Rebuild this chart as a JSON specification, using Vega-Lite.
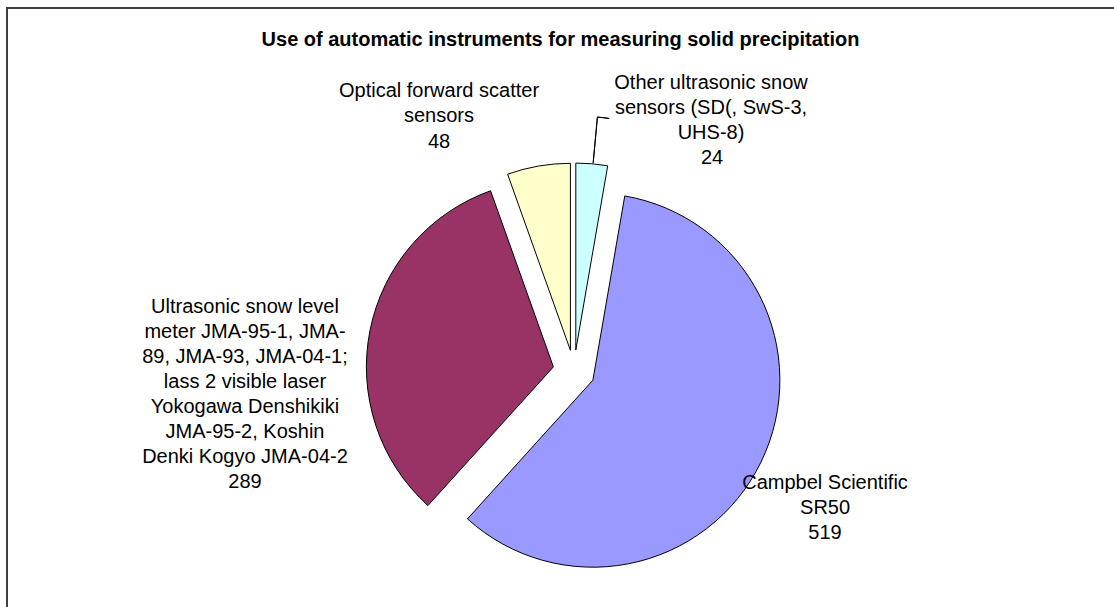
{
  "$schema": "https://vega.github.io/schema/vega-lite/v6.json",
  "width": 1107,
  "height": 599,
  "autosize": {"type": "none"},
  "padding": {"left": 7, "top": 8, "right": 0, "bottom": 0},
  "background": "#ffffff",
  "title": {
    "text": "Use of automatic instruments for measuring solid precipitation",
    "font": "Liberation Sans",
    "fontSize": 20,
    "fontWeight": "bold",
    "color": "#000000",
    "anchor": "middle",
    "frame": "group",
    "baseline": "alphabetic",
    "offset": -40,
    "dy": 28
  },
  "config": {
    "view": {"stroke": null},
    "text": {"font": "Liberation Sans", "fontSize": 20, "fill": "#000000"}
  },
  "data": {
    "values": [
      {"name": "Other ultrasonic snow sensors (SD(, SwS-3, UHS-8)", "lines": ["Other ultrasonic snow", "sensors (SD(, SwS-3,", "UHS-8)"], "value": 24},
      {"name": "Campbel Scientific SR50", "lines": ["Campbel Scientific", "SR50"], "value": 519},
      {"name": "Ultrasonic snow level meter", "lines": ["Ultrasonic snow level", "meter JMA-95-1, JMA-", "89, JMA-93, JMA-04-1;", "lass 2 visible laser", "Yokogawa Denshikiki", "JMA-95-2, Koshin", "Denki Kogyo JMA-04-2"], "value": 289},
      {"name": "Optical forward scatter sensors", "lines": ["Optical forward scatter", "sensors"], "value": 48}
    ]
  },
  "transform": [{"window": [{"op": "row_number", "as": "idx"}]}],
  "layer": [
    {
      "transform": [{"filter": "datum.idx === 1"}],
      "mark": {"type": "rect", "filled": false, "stroke": "#404040", "strokeWidth": 2, "strokeDash": [1107, 1706, 599]},
      "encoding": {
        "x": {"value": 0},
        "x2": {"value": "width"},
        "y": {"value": 0},
        "y2": {"value": "height"}
      }
    },
    {
      "encoding": {
        "theta": {"field": "value", "type": "quantitative", "stack": true},
        "order": {"field": "idx", "type": "quantitative"}
      },
      "layer": [
        {
          "mark": {"type": "arc", "outerRadius": 187, "stroke": "#000000", "strokeWidth": 1, "xOffset": 15.3, "yOffset": 42.58},
          "encoding": {
            "color": {"field": "name", "type": "nominal", "scale": {"domain": ["Other ultrasonic snow sensors (SD(, SwS-3, UHS-8)", "Campbel Scientific SR50", "Ultrasonic snow level meter", "Optical forward scatter sensors"], "range": ["#CCFFFF", "#9999FF", "#993366", "#FFFFCC"]}, "legend": null},
            "opacity": {"condition": {"test": "datum.idx === 1", "value": 1}, "value": 0}
          }
        },
        {
          "mark": {"type": "arc", "outerRadius": 187, "stroke": "#000000", "strokeWidth": 1, "xOffset": 32.38, "yOffset": 72.7},
          "encoding": {
            "color": {"field": "name", "type": "nominal", "legend": null},
            "opacity": {"condition": {"test": "datum.idx === 2", "value": 1}, "value": 0}
          }
        },
        {
          "mark": {"type": "arc", "outerRadius": 187, "stroke": "#000000", "strokeWidth": 1, "xOffset": -7.1, "yOffset": 59.4},
          "encoding": {
            "color": {"field": "name", "type": "nominal", "legend": null},
            "opacity": {"condition": {"test": "datum.idx === 3", "value": 1}, "value": 0}
          }
        },
        {
          "mark": {"type": "arc", "outerRadius": 187, "stroke": "#000000", "strokeWidth": 1, "xOffset": 9.92, "yOffset": 42.81},
          "encoding": {
            "color": {"field": "name", "type": "nominal", "legend": null},
            "opacity": {"condition": {"test": "datum.idx === 4", "value": 1}, "value": 0}
          }
        },
        {
          "mark": {"type": "text", "radius": 194, "dx": 133.9, "dy": -25.2, "align": "center", "baseline": "alphabetic", "lineHeight": 25},
          "encoding": {"text": {"condition": {"test": "datum.idx === 1", "field": "lines", "type": "nominal"}, "value": ""}}
        },
        {
          "mark": {"type": "text", "radius": 194, "dx": 134.9, "dy": 49.8, "align": "center", "baseline": "alphabetic"},
          "encoding": {"text": {"condition": {"test": "datum.idx === 1", "field": "value", "type": "quantitative", "format": "d"}, "value": ""}}
        },
        {
          "mark": {"type": "text", "radius": 331, "dx": -33, "dy": 36.5, "align": "center", "baseline": "alphabetic", "lineHeight": 25},
          "encoding": {"text": {"condition": {"test": "datum.idx === 2", "field": "lines", "type": "nominal"}, "value": ""}}
        },
        {
          "mark": {"type": "text", "radius": 331, "dx": -33, "dy": 86.5, "align": "center", "baseline": "alphabetic"},
          "encoding": {"text": {"condition": {"test": "datum.idx === 2", "field": "value", "type": "quantitative", "format": "d"}, "value": ""}}
        },
        {
          "mark": {"type": "text", "radius": 291, "dx": -30.1, "dy": 62.3, "align": "center", "baseline": "alphabetic", "lineHeight": 25},
          "encoding": {"text": {"condition": {"test": "datum.idx === 3", "field": "lines", "type": "nominal"}, "value": ""}}
        },
        {
          "mark": {"type": "text", "radius": 291, "dx": -30.1, "dy": 237.3, "align": "center", "baseline": "alphabetic"},
          "encoding": {"text": {"condition": {"test": "datum.idx === 3", "field": "value", "type": "quantitative", "format": "d"}, "value": ""}}
        },
        {
          "mark": {"type": "text", "radius": 204, "dx": -86.7, "dy": -9.5, "align": "center", "baseline": "alphabetic", "lineHeight": 25},
          "encoding": {"text": {"condition": {"test": "datum.idx === 4", "field": "lines", "type": "nominal"}, "value": ""}}
        },
        {
          "mark": {"type": "text", "radius": 204, "dx": -86.7, "dy": 41.5, "align": "center", "baseline": "alphabetic"},
          "encoding": {"text": {"condition": {"test": "datum.idx === 4", "field": "value", "type": "quantitative", "format": "d"}, "value": ""}}
        }
      ]
    },
    {
      "transform": [{"filter": "datum.idx === 1"}],
      "layer": [
        {
          "mark": {"type": "arc", "theta": 0.0925, "theta2": 0.0925, "innerRadius": 188, "outerRadius": 234, "filled": false, "stroke": "#000000", "strokeWidth": 1, "xOffset": 15.3, "yOffset": 42.58}
        },
        {
          "mark": {"type": "arc", "theta": 0.0925, "theta2": 0.1431, "innerRadius": 234, "outerRadius": 234, "filled": false, "stroke": "#000000", "strokeWidth": 1, "xOffset": 15.3, "yOffset": 42.58}
        }
      ]
    }
  ]
}
